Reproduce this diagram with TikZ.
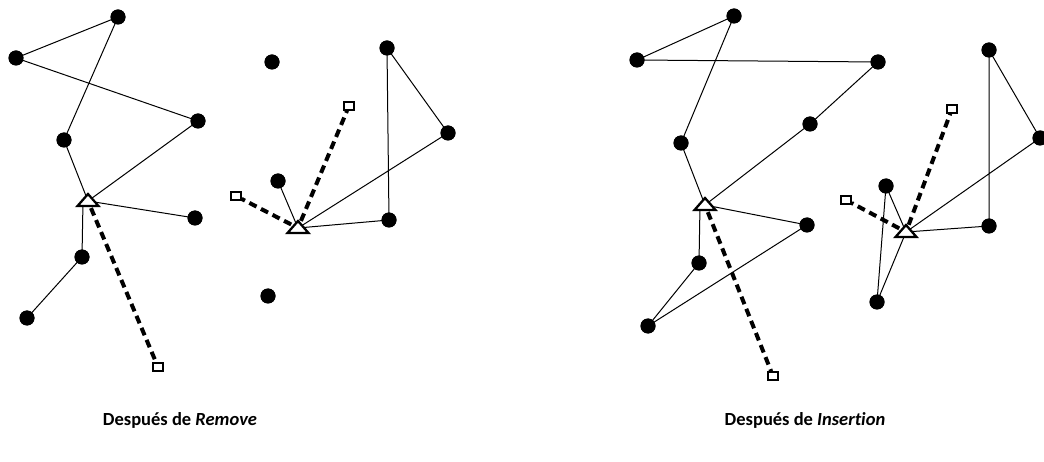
\documentclass[tikz,border=0pt]{standalone}
\usepackage{fontspec}
\setmainfont{Carlito}[Ligatures=NoCommon]
\begin{document}
\begin{tikzpicture}[x=1pt,y=-1pt,
  dot/.style={circle,fill=black,inner sep=0pt,minimum size=15pt},
  sq/.style={rectangle,inner sep=0pt,minimum width=11pt,minimum height=9pt},
  tri/.style={circle,inner sep=0pt,minimum size=15pt},
  trishape/.style={draw=black,line width=2.3pt,line join=miter,fill=white},
  edge/.style={line width=1pt},
  dsh/.style={line width=4pt,dash pattern=on 8pt off 5pt},
  lbl/.style={font=\fontsize{18.5}{22}\selectfont\bfseries}]
\useasboundingbox (0,0) rectangle (1044,462);
% nodes
\node[dot] (a1) at (118,17) {};
\node[dot] (a2) at (16,58) {};
\node[dot] (a3) at (198,121) {};
\node[dot] (a4) at (64,140) {};
\node[tri] (t1) at (88,201) {};
\node[dot] (a5) at (195,218) {};
\node[dot] (a6) at (82,257) {};
\node[dot] (a7) at (27,318) {};
\node[sq] (s1) at (158,367) {};
\node[dot] (b1) at (272,62) {};
\node[dot] (b2) at (387,48) {};
\node[dot] (b3) at (448,133) {};
\node[sq] (s2) at (349,106) {};
\node[dot] (b4) at (278,181) {};
\node[sq] (s3) at (236,196) {};
\node[tri] (t2) at (298,228) {};
\node[dot] (b5) at (389,220) {};
\node[dot] (b6) at (268,296) {};
\node[dot] (c1) at (734,16) {};
\node[dot] (c2) at (637,60) {};
\node[dot] (c3) at (878,62) {};
\node[dot] (c4) at (810,124) {};
\node[dot] (c5) at (681,143) {};
\node[tri] (t3) at (705,205) {};
\node[dot] (c6) at (807,225) {};
\node[dot] (c7) at (699,263) {};
\node[dot] (c8) at (648,326) {};
\node[sq] (s4) at (773,376) {};
\node[dot] (d1) at (989,50) {};
\node[dot] (d2) at (1040,138) {};
\node[sq] (s5) at (952,109) {};
\node[dot] (d3) at (886,186) {};
\node[sq] (s6) at (846,200) {};
\node[tri] (t4) at (906,232) {};
\node[dot] (d4) at (989,226) {};
\node[dot] (d5) at (877,302) {};
% thin edges
\draw[edge] (a2.center) -- (a1.center) -- (a4.center) -- (t1.center);
\draw[edge] (a2.center) -- (a3.center) -- (t1.center);
\draw[edge] (t1.center) -- (a5.center);
\draw[edge] ([xshift=-5pt]t1.center) -- (a6.center) -- (a7.center);
\draw[edge] (b2.center) -- (b3.center) -- (t2.center) -- (b5.center) -- (b2.center);
\draw[edge] (b4.center) -- (t2.center);
\draw[edge] (c2.center) -- (c1.center) -- (c5.center) -- (t3.center);
\draw[edge] (c2.center) -- (c3.center) -- (c4.center) -- (t3.center);
\draw[edge] (t3.center) -- (c6.center) -- (c8.center) -- (c7.center) -- ([xshift=-5pt]t3.center);
\draw[edge] (d1.center) -- (d2.center) -- (t4.center) -- (d4.center) -- (d1.center);
\draw[edge] (d3.center) -- (t4.center) -- (d5.center) -- (d3.center);
% dashed
\draw[dsh] (t1) -- (s1);
\draw[dsh] (t2) -- (s2);
\draw[dsh] (t2) -- (s3);
\draw[dsh] (t3) -- (s4);
\draw[dsh] (t4) -- (s5);
\draw[dsh] (t4) -- (s6);
% dots, squares and triangles on top
\foreach \n in {a1,a2,a3,a4,a5,a6,a7,b1,b2,b3,b4,b5,b6,c1,c2,c3,c4,c5,c6,c7,c8,d1,d2,d3,d4,d5}
  \fill (\n.center) circle (7.5pt);
\foreach \n in {s1,s2,s3,s4,s5,s6}
  \draw[line width=2.2pt,fill=white] ([shift={(-5,-4)}]\n.center) rectangle ([shift={(5,4)}]\n.center);
\foreach \n in {t1,t2,t3,t4}
  \draw[trishape] ([shift={(-10.5,5)}]\n.center) -- ([shift={(10.5,5)}]\n.center) -- ([shift={(0,-7)}]\n.center) -- cycle;
% labels
\node[lbl] (l1) at (180,420) {Después de \textit{Remove}};
\node[lbl] (l2) at (805,420) {Después de \textit{Insertion}};
\end{tikzpicture}
\end{document}
